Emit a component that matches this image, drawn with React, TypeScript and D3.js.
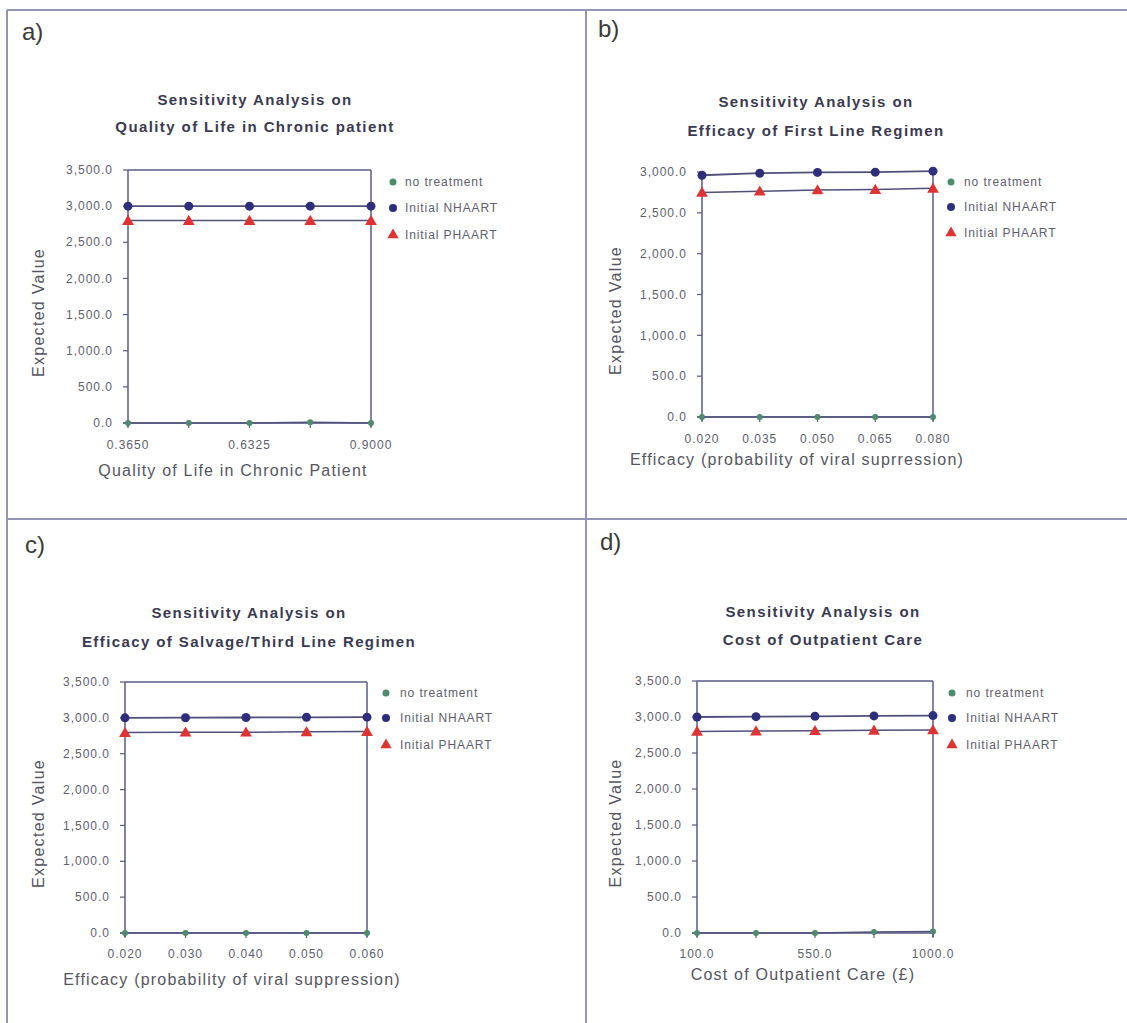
import React from "react";
import * as d3 from "d3";

// ---------- data ----------
const seriesNames = ["no treatment", "Initial NHAART", "Initial PHAART"];

const aTitle = ["Sensitivity Analysis on", "Quality of Life in Chronic patient"];
const aXLabel = "Quality of Life in Chronic Patient";
const aX = [0.365, 0.49875, 0.6325, 0.76625, 0.9];
const aXTicks = [0.365, 0.6325, 0.9];
const aXTickLabels = ["0.3650", "0.6325", "0.9000"];
const aNone = [0, 0, 0, 10, 0];
const aNHAART = [3000, 3000, 3000, 3000, 3000];
const aPHAART = [2800, 2800, 2800, 2800, 2800];

const bTitle = ["Sensitivity Analysis on", "Efficacy of First Line Regimen"];
const bXLabel = "Efficacy (probability of viral suprression)";
const bX = [0.02, 0.035, 0.05, 0.065, 0.08];
const bXTicks = [0.02, 0.035, 0.05, 0.065, 0.08];
const bXTickLabels = ["0.020", "0.035", "0.050", "0.065", "0.080"];
const bNone = [0, 0, 0, 0, 0];
const bNHAART = [2960, 2985, 2995, 2998, 3010];
const bPHAART = [2750, 2765, 2780, 2785, 2800];

const cTitle = ["Sensitivity Analysis on", "Efficacy of Salvage/Third Line Regimen"];
const cXLabel = "Efficacy (probability of viral suppression)";
const cX = [0.02, 0.03, 0.04, 0.05, 0.06];
const cXTicks = [0.02, 0.03, 0.04, 0.05, 0.06];
const cXTickLabels = ["0.020", "0.030", "0.040", "0.050", "0.060"];
const cNone = [0, 0, 0, 0, 0];
const cNHAART = [3000, 3002, 3005, 3008, 3010];
const cPHAART = [2795, 2800, 2800, 2805, 2810];

const dTitle = ["Sensitivity Analysis on", "Cost of Outpatient Care"];
const dXLabel = "Cost of Outpatient Care (£)";
const dX = [100, 325, 550, 775, 1000];
const dXTicks = [100, 550, 1000];
const dXTickLabels = ["100.0", "550.0", "1000.0"];
const dNone = [0, 0, 0, 15, 20];
const dNHAART = [3000, 3005, 3010, 3015, 3020];
const dPHAART = [2800, 2805, 2810, 2815, 2820];

const yMaxA = 3500;
const yMaxB = 3000;
const yLabel = "Expected Value";
const panelLetters = ["a)", "b)", "c)", "d)"];

// ---------- styles ----------
const COL_NONE = "#4d8a6e";
const COL_N = "#2e2e7c";
const COL_P = "#dd3333";
const AXIS = "#5a5a88";
const LINE = "#50507a";
const TICKTXT = "#5e5e6e";
const TITLE = "#3a3a50";
const LABEL = "#55555f";
const FRAME = "#9494b4";
const FONT = "Arial, 'Liberation Sans', sans-serif";

type Panel = {
  letter: string; lx: number; ly: number;
  title: string[]; tx: number; ty1: number; ty2: number;
  xLabel: string; xlx: number; xly: number;
  ylx: number;
  left: number; right: number; top: number; bottom: number;
  yMax: number;
  xs: number[]; xTicks: number[]; xTickLabels: string[]; xtly: number;
  none: number[]; nh: number[]; ph: number[];
  legX: number; legTX: number; legY: number[];
  topBorder: boolean;
};

const panels: Panel[] = [
  { letter: panelLetters[0], lx: 22, ly: 40, title: aTitle, tx: 255, ty1: 105, ty2: 132,
    xLabel: aXLabel, xlx: 233, xly: 476, ylx: 44,
    left: 128, right: 371, top: 170, bottom: 423, yMax: yMaxA,
    xs: aX, xTicks: aXTicks, xTickLabels: aXTickLabels, xtly: 449,
    none: aNone, nh: aNHAART, ph: aPHAART,
    legX: 393, legTX: 405, legY: [182, 208, 235], topBorder: true },
  { letter: panelLetters[1], lx: 598, ly: 37, title: bTitle, tx: 816, ty1: 107, ty2: 136,
    xLabel: bXLabel, xlx: 797, xly: 465, ylx: 621,
    left: 702, right: 933, top: 172, bottom: 417, yMax: yMaxB,
    xs: bX, xTicks: bXTicks, xTickLabels: bXTickLabels, xtly: 443,
    none: bNone, nh: bNHAART, ph: bPHAART,
    legX: 951, legTX: 964, legY: [182, 207, 233], topBorder: false },
  { letter: panelLetters[2], lx: 25, ly: 553, title: cTitle, tx: 249, ty1: 618, ty2: 647,
    xLabel: cXLabel, xlx: 232, xly: 985, ylx: 44,
    left: 125, right: 367, top: 682, bottom: 933, yMax: yMaxA,
    xs: cX, xTicks: cXTicks, xTickLabels: cXTickLabels, xtly: 958,
    none: cNone, nh: cNHAART, ph: cPHAART,
    legX: 386, legTX: 400, legY: [693, 718, 745], topBorder: true },
  { letter: panelLetters[3], lx: 600, ly: 550, title: dTitle, tx: 823, ty1: 617, ty2: 645,
    xLabel: dXLabel, xlx: 803, xly: 980, ylx: 621,
    left: 697, right: 933, top: 681, bottom: 933, yMax: yMaxA,
    xs: dX, xTicks: dXTicks, xTickLabels: dXTickLabels, xtly: 958,
    none: dNone, nh: dNHAART, ph: dPHAART,
    legX: 952, legTX: 966, legY: [693, 718, 745], topBorder: true },
];

const fmt = d3.format(",.1f");
const triPath = d3.symbol().type(d3.symbolTriangle).size(60)() as string;
const triLeg = d3.symbol().type(d3.symbolTriangle).size(55)() as string;

function PanelView({ p }: { p: Panel }) {
  const x = d3.scaleLinear().domain([p.xs[0], p.xs[p.xs.length - 1]]).range([p.left, p.right]);
  const y = d3.scaleLinear().domain([0, p.yMax]).range([p.bottom, p.top]);
  const yTicks = d3.range(0, p.yMax + 1, 500);
  const line = d3.line<[number, number]>().x((d) => x(d[0])).y((d) => y(d[1]));
  const pts = (vals: number[]) => p.xs.map((v, i) => [v, vals[i]] as [number, number]);

  return (
    <g>
      <text x={p.lx} y={p.ly} fontSize={24} fill="#3a3a3a" fontFamily={FONT}>{p.letter}</text>
      <text x={p.tx} y={p.ty1} textAnchor="middle" fontSize={15} fontWeight="bold" fill={TITLE}
        fontFamily={FONT} letterSpacing={1.4}>{p.title[0]}</text>
      <text x={p.tx} y={p.ty2} textAnchor="middle" fontSize={15} fontWeight="bold" fill={TITLE}
        fontFamily={FONT} letterSpacing={1.4}>{p.title[1]}</text>

      {/* plot frame */}
      {p.topBorder && <line x1={p.left} x2={p.right} y1={p.top} y2={p.top} stroke={AXIS} strokeWidth={1.5} />}
      <line x1={p.left} x2={p.left} y1={p.top} y2={p.bottom + 4} stroke={AXIS} strokeWidth={1.5} />
      <line x1={p.right} x2={p.right} y1={p.top} y2={p.bottom + 4} stroke={AXIS} strokeWidth={1.5} />
      <line x1={p.left - 5} x2={p.right} y1={p.bottom} y2={p.bottom} stroke={AXIS} strokeWidth={1.5} />

      {/* y ticks */}
      {yTicks.map((t) => (
        <g key={t}>
          <line x1={p.left - 5} x2={p.left} y1={y(t)} y2={y(t)} stroke={AXIS} strokeWidth={1.2} />
          <text x={p.left - 15} y={y(t)} dy="0.35em" textAnchor="end" fontSize={12} fill={TICKTXT}
            fontFamily={FONT} letterSpacing={1}>{fmt(t)}</text>
        </g>
      ))}

      {/* x ticks */}
      {p.xs.map((v) => (
        <line key={"xt" + v} x1={x(v)} x2={x(v)} y1={p.bottom - 3} y2={p.bottom + 5} stroke={AXIS} strokeWidth={1.2} />
      ))}
      {p.xTicks.map((v, i) => (
        <text key={"xl" + v} x={x(v)} y={p.xtly} textAnchor="middle" fontSize={12} fill={TICKTXT}
          fontFamily={FONT} letterSpacing={1}>{p.xTickLabels[i]}</text>
      ))}

      <text x={p.xlx} y={p.xly} textAnchor="middle" fontSize={16} fill={LABEL} fontFamily={FONT}
        letterSpacing={1.2}>{p.xLabel}</text>
      <text transform={`translate(${p.ylx},${(p.top + p.bottom) / 2 + 16}) rotate(-90)`} textAnchor="middle"
        fontSize={16} fill={LABEL} fontFamily={FONT} letterSpacing={1.3}>{yLabel}</text>

      {/* series lines */}
      <path d={line(pts(p.none)) as string} fill="none" stroke={LINE} strokeWidth={1.5} />
      <path d={line(pts(p.nh)) as string} fill="none" stroke={LINE} strokeWidth={1.8} />
      <path d={line(pts(p.ph)) as string} fill="none" stroke={LINE} strokeWidth={1.5} />

      {/* markers */}
      {pts(p.none).map((d, i) => (
        <circle key={"n" + i} cx={x(d[0])} cy={y(d[1])} r={3} fill={COL_NONE} />
      ))}
      {pts(p.ph).map((d, i) => (
        <path key={"p" + i} d={triPath} transform={`translate(${x(d[0])},${y(d[1]) + 1})`} fill={COL_P} />
      ))}
      {pts(p.nh).map((d, i) => (
        <circle key={"h" + i} cx={x(d[0])} cy={y(d[1])} r={4.5} fill={COL_N} />
      ))}

      {/* legend */}
      <circle cx={p.legX} cy={p.legY[0]} r={3.5} fill={COL_NONE} />
      <circle cx={p.legX} cy={p.legY[1]} r={4} fill={COL_N} />
      <path d={triLeg} transform={`translate(${p.legX},${p.legY[2]})`} fill={COL_P} />
      {seriesNames.map((s, i) => (
        <text key={s} x={p.legTX} y={p.legY[i]} dy="0.35em" fontSize={12} fill={TICKTXT}
          fontFamily={FONT} letterSpacing={0.9}>{s}</text>
      ))}
    </g>
  );
}

export default function App() {
  return (
    <svg width={1127} height={1023} style={{ position: "absolute", left: 0, top: 0, background: "#fff" }}>
      <rect x={0} y={0} width={1127} height={1023} fill="#ffffff" />
      {/* frame */}
      <line x1={7} x2={1127} y1={10} y2={10} stroke={FRAME} strokeWidth={2} />
      <line x1={7} x2={7} y1={10} y2={1023} stroke={FRAME} strokeWidth={2} />
      <line x1={586} x2={586} y1={10} y2={1023} stroke={FRAME} strokeWidth={2} />
      <line x1={7} x2={1127} y1={519} y2={519} stroke={FRAME} strokeWidth={2} />
      {panels.map((p) => (
        <PanelView key={p.letter} p={p} />
      ))}
    </svg>
  );
}
